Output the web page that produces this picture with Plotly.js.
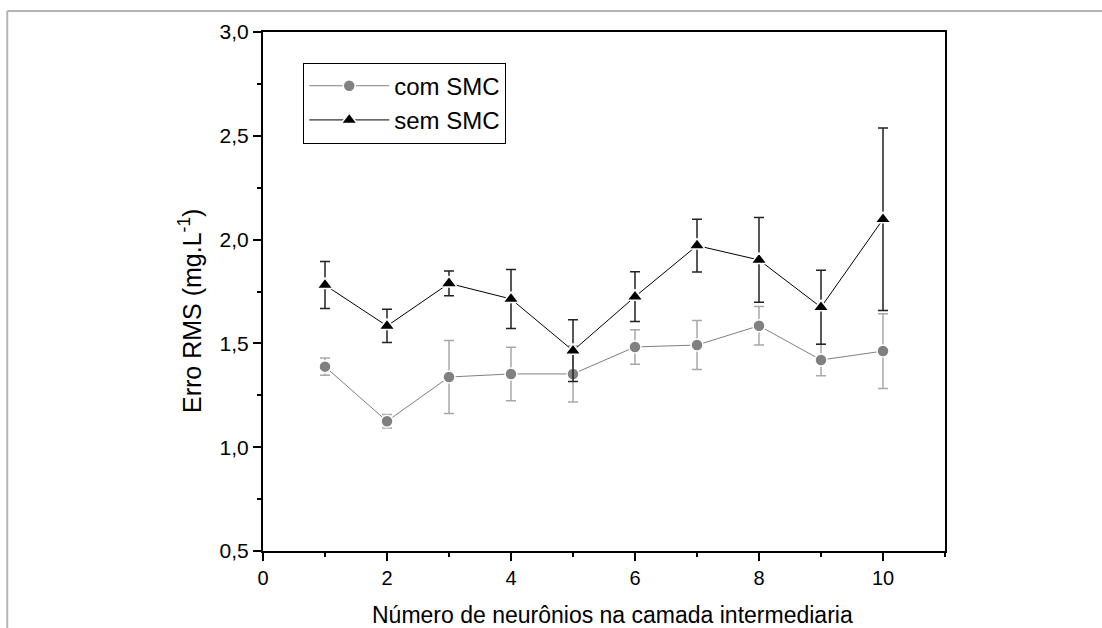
<!DOCTYPE html>
<html><head><meta charset="utf-8">
<script src="https://cdn.plot.ly/plotly-3.0.1.min.js"></script>
<style>html,body{margin:0;padding:0;background:#fff}#chart{width:1102px;height:628px}</style>
</head><body><div id="chart"></div>
<script>
const neurons = [1,2,3,4,5,6,7,8,9,10];
const comSMC = [1.388,1.125,1.338,1.353,1.353,1.483,1.492,1.585,1.420,1.463];
const comSMCerr = [0.042,0.032,0.176,0.129,0.135,0.083,0.118,0.093,0.076,0.18];
const semSMC = [1.781,1.584,1.789,1.714,1.465,1.725,1.971,1.902,1.674,2.098];
const semSMCerr = [0.113,0.08,0.06,0.142,0.149,0.12,0.127,0.204,0.178,0.44];
const xTickVals = [0,2,4,6,8,10];
const yTickVals = [0.5,1.0,1.5,2.0,2.5,3.0];
const xTitle = 'Número de neurônios na camada intermediaria';
const yTitle = 'Erro RMS (mg.L<sup>-1</sup>)';

const traces = [
  {x: neurons, y: comSMC, name: 'com SMC', type: 'scatter', mode: 'lines+markers',
   line: {color: '#808080', width: 1},
   marker: {symbol: 'circle', size: 12, color: '#808080', line: {color: '#fff', width: 1.5}},
   error_y: {type: 'data', array: comSMCerr, visible: true, color: '#a8a8a8', thickness: 1.5, width: 5}},
  {x: neurons, y: semSMC, name: 'sem SMC', type: 'scatter', mode: 'lines+markers',
   line: {color: '#000', width: 1},
   marker: {symbol: 'triangle-up', size: 14, color: '#000', line: {color: '#fff', width: 1.5}},
   error_y: {type: 'data', array: semSMCerr, visible: true, color: '#222', thickness: 1.5, width: 5}}
];

const font = {family: 'Liberation Sans, Arial, sans-serif', color: '#000'};
const layout = {
  width: 1102, height: 628,
  margin: {l: 263, r: 157, t: 32, b: 77},
  paper_bgcolor: '#fff', plot_bgcolor: '#fff',
  separators: ',.',
  font: Object.assign({size: 20}, font),
  showlegend: true,
  legend: {x: 0.059, y: 0.941, xanchor: 'left', yanchor: 'top',
    bordercolor: '#000', borderwidth: 1, bgcolor: '#fff', itemwidth: 80,
    font: Object.assign({size: 24}, font), tracegroupgap: 0},
  xaxis: {range: [0, 11], tickvals: xTickVals, ticktext: xTickVals.map(String),
    showgrid: false, zeroline: false, showline: true, linecolor: '#000', linewidth: 2, mirror: true,
    ticks: 'outside', ticklen: 8, tickwidth: 2, tickcolor: '#000',
    minor: {dtick: 1, tick0: 0, ticks: 'outside', ticklen: 4, tickwidth: 2, tickcolor: '#000', showgrid: false},
    tickfont: Object.assign({size: 20}, font)},
  yaxis: {range: [0.5, 3.0], tickvals: yTickVals, tickformat: '.1f',
    showgrid: false, zeroline: false, showline: true, linecolor: '#000', linewidth: 2, mirror: true,
    ticks: 'outside', ticklen: 8, tickwidth: 2, tickcolor: '#000',
    minor: {dtick: 0.25, tick0: 0.5, ticks: 'outside', ticklen: 4, tickwidth: 2, tickcolor: '#000', showgrid: false},
    tickfont: Object.assign({size: 21}, font)},
  annotations: [
    {text: xTitle, xref: 'paper', yref: 'paper', x: 0.512, y: -0.1235, xanchor: 'center', yanchor: 'middle',
     showarrow: false, font: Object.assign({size: 23}, font)},
    {text: yTitle, xref: 'paper', yref: 'paper', x: -0.107, y: 0.4624, xanchor: 'center', yanchor: 'middle',
     textangle: -90, showarrow: false, font: Object.assign({size: 25}, font)}
  ],
  shapes: [
    {type: 'line', xref: 'paper', yref: 'paper', x0: -0.375, x1: 1.3, y0: 1.0405, y1: 1.0405, line: {color: '#b4b4b4', width: 2}},
    {type: 'line', xref: 'paper', yref: 'paper', x0: -0.375, x1: -0.375, y0: -0.2, y1: 1.0405, line: {color: '#b4b4b4', width: 2}}
  ]
};
Plotly.newPlot('chart', traces, layout, {displayModeBar: false, staticPlot: true});
</script></body></html>
